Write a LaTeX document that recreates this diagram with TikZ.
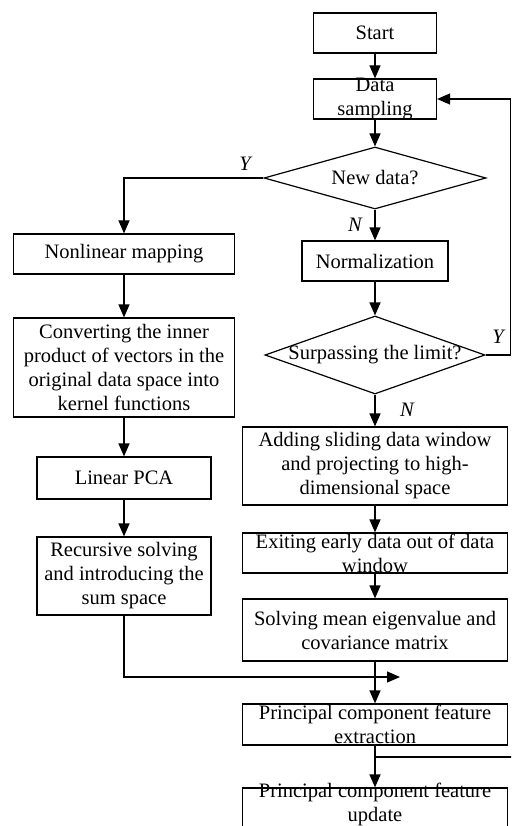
\documentclass[tikz,border=0pt]{standalone}
\usepackage{fontspec}
\setmainfont{Liberation Serif}
\usetikzlibrary{shapes.geometric,arrows.meta}
\begin{document}
\begin{tikzpicture}[x=1pt,y=-1pt,
  every node/.style={font=\fontsize{20.5}{24}\selectfont},
  box/.style={draw, line width=1.2pt, rectangle, inner sep=0pt},
  dec/.style={draw, line width=1.2pt, diamond, inner sep=0pt},
  txt/.style={align=center, inner sep=0pt},
  flow/.style={line width=1.2pt, -{Triangle[length=13pt,width=11pt]}},
  plain/.style={line width=1.2pt},
  yn/.style={font=\fontsize{20.5}{24}\selectfont\itshape, inner sep=0pt}]
\useasboundingbox (0,0) rectangle (511,826);
\clip (0,0) rectangle (511,826);

% right column
\node[box, minimum width=123, minimum height=40, label={[txt]center:Start}] (start) at (375,33) {};
\node[box, minimum width=123, minimum height=40, label={[txt]center:{Data\\sampling}}] (ds) at (375,99) {};
\node[dec, minimum width=222, minimum height=62, label={[txt]center:New data?}] (nd) at (375,178) {};
\node[box, minimum width=146, minimum height=40, label={[txt]center:Normalization}] (norm) at (375,261) {};
\node[dec, minimum width=220, minimum height=78, label={[txt]center:Surpassing the limit?}] (sl) at (375,355) {};
\node[box, minimum width=265, minimum height=78, label={[txt]center:{Adding sliding data window\\and projecting to high-\\dimensional space}}] (add) at (375,466) {};
\node[box, minimum width=265, minimum height=40, label={[txt]center:{Exiting early data out of data\\window}}] (exit) at (375,553) {};
\node[box, minimum width=265, minimum height=62, label={[txt]center:{Solving mean eigenvalue and\\covariance matrix}}] (solve) at (375,630) {};
\node[box, minimum width=265, minimum height=41, label={[txt]center:{Principal component feature\\extraction}}] (ext) at (375,724.5) {};
\node[box, minimum width=265, minimum height=41, label={[txt, yshift=4pt]center:{Principal component feature\\update}}] (upd) at (375,808.5) {};

% left column
\node[box, minimum width=221, minimum height=40, label={[txt]center:Nonlinear mapping}] (nl) at (124,254) {};
\node[box, minimum width=221, minimum height=99, label={[txt]center:{Converting the inner\\product of vectors in the\\original data space into\\kernel functions}}] (conv) at (124,367.5) {};
\node[box, minimum width=174, minimum height=42, label={[txt]center:Linear PCA}] (lpca) at (124,478) {};
\node[box, minimum width=174, minimum height=78, label={[txt]center:{Recursive solving\\and introducing the\\sum space}}] (rec) at (124,576) {};

% helper points
\coordinate (fb) at (510.5,355);
\coordinate (merge) at (400,677);
\coordinate (br) at (375,757);
\coordinate (off) at (512,757);

% main flow
\draw[flow] (start) -- (ds);
\draw[flow] (ds) -- (nd);
\draw[flow] (nd) -- (norm);
\draw[flow] (norm) -- (sl);
\draw[flow] (sl) -- (add);
\draw[flow] (add) -- (exit);
\draw[flow] (exit) -- (solve);
\draw[flow] (solve) -- (ext);
\draw[flow] (ext) -- (upd);
\draw[plain] (br) -- (off);

% branches
\draw[flow] (nd.west) -| (nl.north);
\draw[flow] (nl) -- (conv);
\draw[flow] (conv) -- (lpca);
\draw[flow] (lpca) -- (rec);
\draw[flow] (rec.south) |- (merge);
\draw[flow] (sl.east) -- (fb) |- (ds.east);

% decision labels
\node[yn] (y1) at (245,164) {Y};
\node[yn] (n1) at (355,225) {N};
\node[yn] (y2) at (498,337) {Y};
\node[yn] (n2) at (407,410) {N};
\end{tikzpicture}
\end{document}
